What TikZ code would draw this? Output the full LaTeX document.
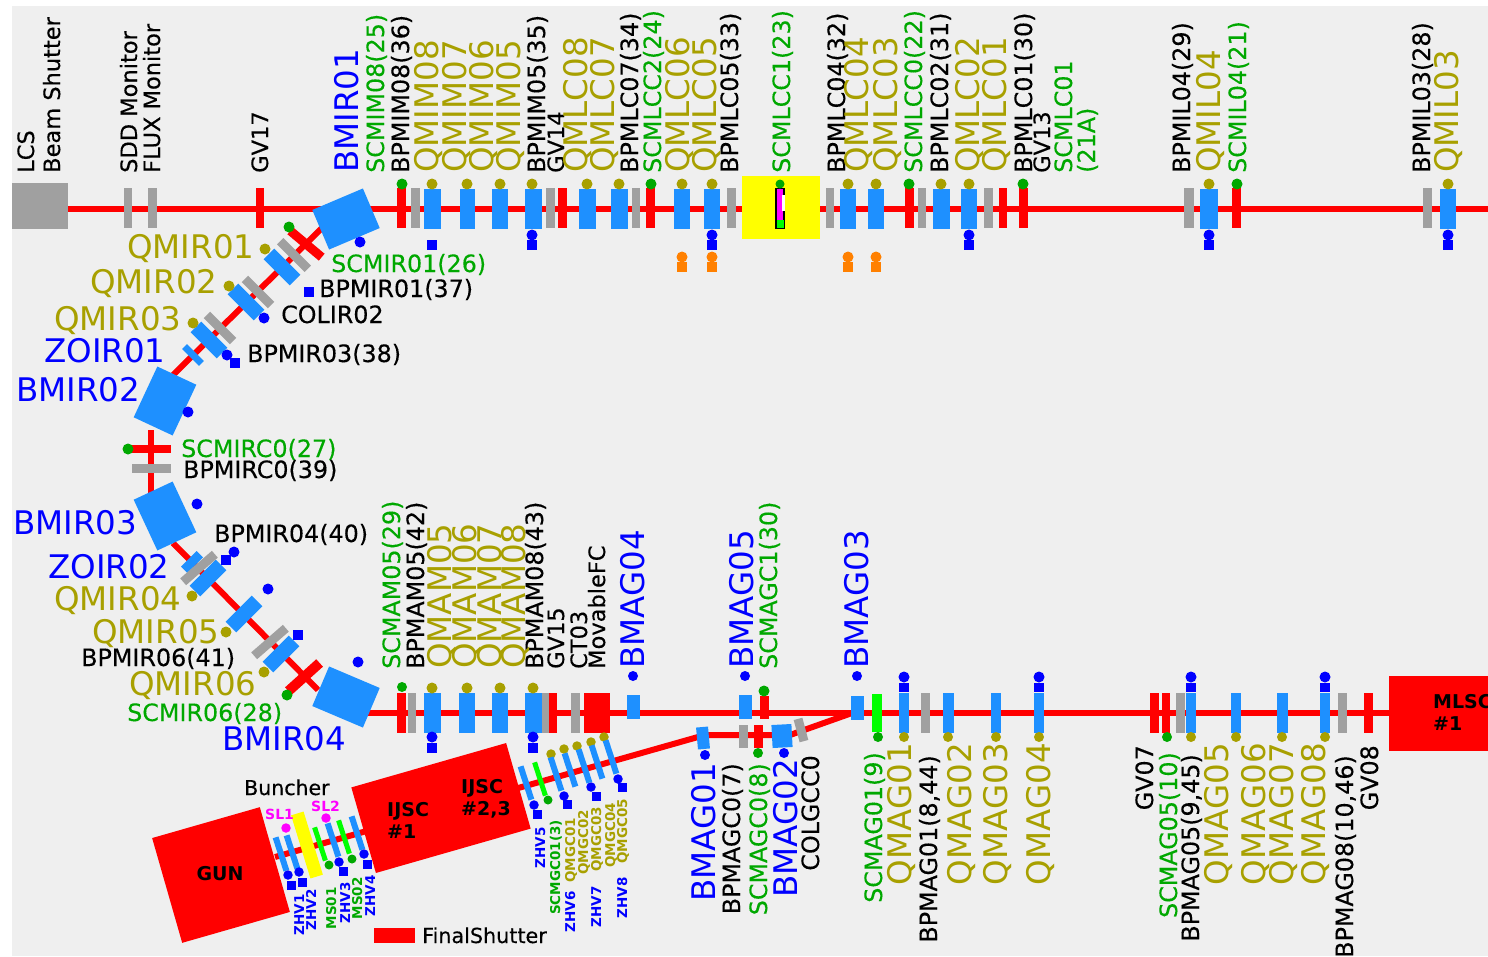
\documentclass[tikz,border=0pt]{standalone}
\usepackage{fontspec}
\setmainfont{DejaVu Sans}
\newfontfamily\lblfont[FakeBold=0.3]{DejaVu Sans}
\definecolor{bgc}{HTML}{EFEFEF}
\definecolor{dblue}{HTML}{1E90FF}
\definecolor{olv}{HTML}{A8A000}
\definecolor{dgreen}{HTML}{00A800}
\definecolor{gry}{HTML}{A0A0A0}
\definecolor{org}{HTML}{FF8000}
\definecolor{mgn}{HTML}{FF00FF}
\definecolor{yel}{HTML}{FFFF00}
\definecolor{lim}{HTML}{00FF00}
\tikzset{
    beam/.style={draw=red,line width=6pt},
    elem/.style={inner sep=0pt,outer sep=0pt,minimum height=40pt},
    qbar/.style={elem,fill=dblue},
    scbar/.style={elem,fill=red},
    bpbar/.style={elem,fill=gry},
    sqmark/.style={inner sep=0pt,minimum size=10.5pt,fill=blue},
    spot/.style={circle,inner sep=0pt,minimum size=11pt},
    oldot/.style={spot,fill=olv},
    grdot/.style={spot,fill=dgreen},
    bldot/.style={spot,fill=blue},
    ordot/.style={spot,fill=org},
    mgdot/.style={spot,fill=mgn,minimum size=9.5pt},
    bigt/.style={font=\fontsize{32.5}{32.5}\selectfont,inner sep=0pt,anchor=base west},
    smallt/.style={font=\lblfont\fontsize{23.8}{24}\selectfont,inner sep=0pt,anchor=base west},
    plaint/.style={font=\lblfont\fontsize{22.5}{23}\selectfont,inner sep=0pt,anchor=base west},
    tinyt/.style={font=\fontsize{13.5}{14}\selectfont\bfseries,inner sep=0pt,anchor=base east,rotate=90},
    upl/.style={rotate=90,anchor=base west},
    dnl/.style={rotate=90,anchor=base east},
    slant/.style={inner sep=0pt,outer sep=0pt,rotate=-72,minimum height=6pt,minimum width=35pt}
}
\begin{document}
\begin{tikzpicture}[x=1pt,y=-1pt]
    \useasboundingbox (0,0) rectangle (1488,956);
    \fill[bgc] (12,6) rectangle (1488,956);
    \coordinate (ls) at (68,209);
    \coordinate (le) at (1488,209);
    \coordinate (ma) at (325,225);
    \coordinate (mb) at (173,375);
    \coordinate (mc) at (151,430);
    \coordinate (md) at (151,495);
    \coordinate (me) at (173,543);
    \coordinate (mf) at (318,690);
    \coordinate (bs) at (368,713);
    \coordinate (be) at (1390,713);
    \coordinate (ga) at (852,713);
    \coordinate (gb) at (790,735);
    \coordinate (gc) at (705,735);
    \coordinate (gd) at (275,857);
    \draw[beam] (ls) -- (le);
    \draw[beam] (ma) -- (mb);
    \draw[beam] (mc) -- (md);
    \draw[beam] (me) -- (mf);
    \draw[beam] (bs) -- (be);
    \draw[beam] (ga) -- (gb) -- (gc) -- (gd);
    \node[fill=gry,inner sep=0pt,minimum width=56pt,minimum height=46pt] (LCS) at (40,206) {};
    \foreach \x/\w in {128/8,152/9,415/9,550/9,636/8,731/9,830/8,922/8,988/9,1189/10,1427/9}
        \node[bpbar,minimum width=\w pt] (bt\x) at (\x,208) {};
    \foreach \x/\w in {260/8,401/9,562/9,650/9,909/9,1003/8,1023/9,1236/9}
        \node[scbar,minimum width=\w pt] (st\x) at (\x,208) {};
    \foreach \x/\w in {432/17,467/15,500/16,533/17,587/17,619/17,682/16,712/16,848/16,876/16,941/17,969/16,1209/18,1448/16}
        \node[qbar,minimum width=\w pt] (qt\x) at (\x,208.5) {};
    \foreach \x in {432,467,500,532,587,619,682,712,848,876,941,969,1209,1448}
        \node[oldot] (ot\x) at (\x,184) {};
    \foreach \x in {402,651,909,1023,1237}
        \node[grdot] (gt\x) at (\x,184) {};
    \foreach \x in {532,712,969,1209,1448}
        \node[bldot] (ct\x) at (\x,235) {};
    \foreach \x in {432,532,712,969,1209,1448}
        \node[sqmark] (mt\x) at (\x,245) {};
    \foreach \x in {682,712,848,876}{
        \node[ordot] (ro\x) at (\x,257) {};
        \node[fill=org,inner sep=0pt,minimum size=10.5pt] (rs\x) at (\x,267) {};
    }
    \node[fill=yel,inner sep=0pt,minimum width=78pt,minimum height=63pt] (SCLCC) at (781,207.5) {};
    \node[fill=mgn,draw=black,line width=1.2pt,inner sep=0pt,minimum width=8pt,minimum height=40pt] (cav) at (780,208.5) {};
    \node[fill=lim,inner sep=0pt,minimum width=7pt,minimum height=8pt] (cavb) at (780,224) {};
    \node[fill=white,inner sep=0pt,minimum width=3pt,minimum height=16pt] (cavw) at (783,203) {};
    \node[grdot,minimum size=9pt] (cavd) at (780,184) {};

    \node[qbar,minimum width=55pt,minimum height=43pt,rotate=23] (BMIR01) at (346,219) {};
    \node[bldot] (dBMIR01) at (360,242) {};
    \node[scbar,minimum width=41pt,minimum height=9pt,rotate=-40] (SCMIR01) at (306,244) {};
    \node[grdot] (gSCMIR01) at (289,227) {};
    \node[bpbar,minimum width=39pt,minimum height=9pt,rotate=-45] (BPMIR01) at (294,255) {};
    \node[qbar,minimum width=37pt,minimum height=15pt,rotate=-45] (QMIR01) at (282,267) {};
    \node[oldot] (oQMIR01) at (265,249) {};
    \node[sqmark] (mBPMIR01) at (309,292) {};
    \node[bpbar,minimum width=37pt,minimum height=9pt,rotate=-45] (COLIR02) at (258,292) {};
    \node[qbar,minimum width=37pt,minimum height=15pt,rotate=-45] (QMIR02) at (246,302) {};
    \node[oldot] (oQMIR02) at (229,286) {};
    \node[bldot] (dQMIR02) at (264,318) {};
    \node[bpbar,minimum width=37pt,minimum height=9pt,rotate=-45] (BPMIR03) at (220,328) {};
    \node[qbar,minimum width=37pt,minimum height=15pt,rotate=-45] (QMIR03) at (209,340) {};
    \node[oldot] (oQMIR03) at (193,323) {};
    \node[bldot] (dQMIR03) at (227,355) {};
    \node[sqmark] (mBPMIR03) at (235,363) {};
    \node[qbar,minimum width=24pt,minimum height=7pt,rotate=-45] (ZOIR01) at (193,355) {};
    \node[qbar,minimum width=56pt,minimum height=43pt,rotate=65] (BMIR02) at (165,401) {};
    \node[bldot] (dBMIR02) at (188,412) {};
    \node[scbar,minimum width=39pt,minimum height=8pt] (SCMIRC0) at (151.5,449) {};
    \node[grdot] (gSCMIRC0) at (128,449) {};
    \node[bpbar,minimum width=39pt,minimum height=9pt] (BPMIRC0) at (151.5,468.5) {};
    \node[qbar,minimum width=56pt,minimum height=43pt,rotate=-65] (BMIR03) at (165,516) {};
    \node[bldot] (dBMIR03) at (197,504) {};
    \node[qbar,minimum width=37pt,minimum height=15pt,rotate=45] (QMIR04) at (208,578) {};
    \node[qbar,minimum width=22pt,minimum height=9pt,rotate=45] (ZOIR02) at (192,562) {};
    \node[bpbar,minimum width=42pt,minimum height=9pt,rotate=41] (BPMIR04) at (199,568) {};
    \node[bldot] (dBPMIR04) at (234,552) {};
    \node[sqmark] (mBPMIR04) at (226,560) {};
    \node[oldot] (oQMIR04) at (192,596) {};
    \node[qbar,minimum width=37pt,minimum height=15pt,rotate=45] (QMIR05) at (244,614) {};
    \node[oldot] (oQMIR05) at (226,632) {};
    \node[bldot] (dQMIR05) at (268,589) {};
    \node[bpbar,minimum width=42pt,minimum height=9pt,rotate=41] (BPMIR06) at (270,642) {};
    \node[qbar,minimum width=37pt,minimum height=15pt,rotate=45] (QMIR06) at (281,654) {};
    \node[sqmark] (mBPMIR06) at (298,635) {};
    \node[oldot] (oQMIR06) at (264,672) {};
    \node[scbar,minimum width=42pt,minimum height=10pt,rotate=42] (SCMIR06) at (304,677) {};
    \node[grdot] (gSCMIR06) at (287,695) {};
    \node[qbar,minimum width=55pt,minimum height=43pt,rotate=-23] (BMIR04) at (346,697) {};
    \node[bldot] (dBMIR04) at (358,662) {};

    \foreach \x/\w in {412/8,545/8,575/9,925/9,1180/9,1342/9}
        \node[bpbar,minimum width=\w pt] (bb\x) at (\x,713) {};
    \foreach \x/\w in {401/9,553/8,1154/9,1166/8,1368/9}
        \node[scbar,minimum width=\w pt] (sb\x) at (\x,713) {};
    \node[scbar,minimum width=26pt,minimum height=40pt] (FC) at (597,713) {};
    \foreach \x/\w in {432/17,467/16,500/16,533/17,904/10,948/11,996/10,1039/10,1191/10,1236/10,1282/11,1325/10}
        \node[qbar,minimum width=\w pt] (qb\x) at (\x,713) {};
    \foreach \x in {432,467,500,533}
        \node[oldot] (ob\x) at (\x,688) {};
    \foreach \x in {904,948,996,1039,1191,1236,1282,1325}
        \node[oldot,minimum size=10pt] (oc\x) at (\x,737) {};
    \foreach \x in {432,533}{
        \node[bldot] (db\x) at (\x,737) {};
        \node[sqmark] (mb\x) at (\x,748) {};
    }
    \foreach \x in {904,1039,1191,1325}{
        \node[bldot] (dc\x) at (\x,677) {};
        \node[sqmark,minimum width=10pt,minimum height=9pt] (mc\x) at (\x,687.5) {};
    }
    \node[grdot,minimum size=10pt] (gb402) at (402,687) {};
    \node[grdot,minimum size=10pt] (gb1167) at (1167,737) {};
    \foreach \x/\y in {633/707,745/707,857/708}{
        \node[qbar,minimum width=13pt,minimum height=24pt] (ag\x) at (\x,\y) {};
        \node[bldot,minimum size=10pt] (dg\x) at (\x,676) {};
    }
    \node[scbar,minimum width=9pt,minimum height=23pt] (SCMAGC1) at (764,707) {};
    \node[grdot] (gSCMAGC1) at (764,691) {};
    \node[fill=lim,inner sep=0pt,minimum width=10pt,minimum height=38pt] (SCMAG01) at (877,713) {};
    \node[grdot,minimum size=10pt] (gSCMAG01) at (878,737) {};
    \node[qbar,minimum width=12pt,minimum height=22pt,rotate=5] (BMAG01) at (703,738) {};
    \node[bldot,minimum size=10pt] (dBMAG01) at (705,755) {};
    \node[bpbar,minimum width=9pt,minimum height=23pt] (BPMAGC0) at (743,736) {};
    \node[scbar,minimum width=9pt,minimum height=23pt] (SCMAGC0) at (758,736) {};
    \node[grdot,minimum size=10pt] (gSCMAGC0) at (758,753) {};
    \node[qbar,minimum width=20pt,minimum height=23pt,rotate=3] (BMAG02) at (782,736) {};
    \node[bldot,minimum size=10pt] (dBMAG02) at (784,753) {};
    \node[bpbar,minimum width=9pt,minimum height=23pt,rotate=15] (COLGCC0) at (801,730) {};
    \node[scbar,minimum width=110pt,minimum height=75pt,anchor=north west] (MLSC) at (1389,676) {};

    \node[scbar,minimum width=112pt,minimum height=109pt,rotate=16] (GUN) at (221,875) {};
    \node[scbar,minimum width=161pt,minimum height=89pt,rotate=16] (IJSC) at (441,808) {};
    \node[slant,fill=dblue] (ZHV1) at (281,854) {};
    \node[slant,fill=dblue] (ZHV2) at (292,852) {};
    \node[fill=yel,inner sep=0pt,rotate=-73,minimum width=66pt,minimum height=13pt] (BUN) at (307,845) {};
    \node[slant,fill=lim,minimum height=5pt] (MS01) at (320,844) {};
    \node[slant,fill=dblue] (ZHV3) at (333,840) {};
    \node[slant,fill=lim,minimum height=5pt] (MS02) at (344,837) {};
    \node[slant,fill=dblue] (ZHV4) at (357,833) {};
    \foreach \x/\y in {288/875,299/872,339/862,364/854,534/805,564/796,591/787,618/779}
        \node[bldot,minimum size=9.5pt] (de\x) at (\x,\y) {};
    \foreach \x/\y in {291/885,302/882,343/871,367/864,537/814,567/804,596/796,622/787}
        \node[sqmark,minimum size=9pt] (me\x) at (\x,\y) {};
    \node[mgdot] (mSL1) at (286,828) {};
    \node[mgdot] (mSL2) at (326,818) {};
    \foreach \x/\y in {329/865,352/859,548/800}
        \node[grdot,minimum size=9pt] (ge\x) at (\x,\y) {};
    \foreach \x/\y in {551/754,564/749,577/746,591/742,604/737}
        \node[oldot,minimum size=9.5pt] (oe\x) at (\x,\y) {};
    \node[slant,fill=dblue] (ZHV5) at (526,783) {};
    \node[slant,fill=lim,minimum height=5pt] (SCMGC01) at (540,779) {};
    \foreach \x/\y in {556/774,570/770,584/766,597/762,611/757}
        \node[slant,fill=dblue] (qg\x) at (\x,\y) {};

    \foreach \x/\t in {34/LCS,60/Beam Shutter,137/SDD Monitor,160/FLUX Monitor,268/GV17,564/GV14,1050/GV13}
        \node[plaint,upl] (pt\x) at (\x,173) {\t};
    \foreach \x/\t in {409/BPMIM08(36),545/BPMIM05(35),638/BPMLC07(34),738/BPMLC05(33),845/BPMLC04(32),948/BPMLC02(31),1032/BPMLC01(30),1190/BPMIL04(29),1430/BPMIL03(28)}
        \node[smallt,upl] (ut\x) at (\x,173) {\t};
    \foreach \x/\t in {384/SCMIM08(25),661/SCMLCC2(24),790/SCMLCC1(23),922/SCMLCC0(22),1072/SCMLC01,1095/(21A),1246/SCMIL04(21)}
        \node[smallt,upl,text=dgreen] (vt\x) at (\x,173) {\t};
    \foreach \x/\t in {438/QMIM08,466/QMIM07,493/QMIM06,520/QMIM05,587/QMLC08,614/QMLC07,689/QMLC06,716/QMLC05,868/QMLC04,897/QMLC03,979/QMLC02,1006/QMLC01,1220/QMIL04,1458/QMIL03}
        \node[bigt,upl,text=olv] (wt\x) at (\x,173) {\t};
    \node[bigt,upl,text=blue] (tBMIR01) at (358,173) {BMIR01};

    \foreach \x/\t in {564/GV15,587/CT03,605/MovableFC}
        \node[plaint,upl] (pb\x) at (\x,669) {\t};
    \foreach \x/\t in {424/BPMAM05(42),543/BPMAM08(43)}
        \node[smallt,upl] (ub\x) at (\x,669) {\t};
    \foreach \x/\t in {400/SCMAM05(29),777/SCMAGC1(30)}
        \node[smallt,upl,text=dgreen] (vb\x) at (\x,669) {\t};
    \foreach \x/\t in {451/QMAM05,476/QMAM06,501/QMAM07,525/QMAM08}
        \node[bigt,upl,text=olv] (wb\x) at (\x,669) {\t};
    \foreach \x/\t in {644/BMAG04,753/BMAG05,868/BMAG03}
        \node[bigt,upl,text=blue] (ab\x) at (\x,669) {\t};

    \foreach \x/\y/\t in {740/763/BPMAGC0(7),819/755/COLGCC0,937/755/{BPMAG01(8,44)},1153/745/GV07,1199/754/{BPMAG05(9,45)},1353/755/{BPMAG08(10,46)},1378/745/GV08}
        \node[smallt,dnl] (ud\x) at (\x,\y) {\t};
    \foreach \x/\y/\t in {767/763/SCMAGC0(8),882/752/SCMAG01(9),1177/752/SCMAG05(10)}
        \node[smallt,dnl,text=dgreen] (vd\x) at (\x,\y) {\t};
    \foreach \x/\t in {911/QMAG01,971/QMAG02,1007/QMAG03,1050/QMAG04,1228/QMAG05,1265/QMAG06,1293/QMAG07,1325/QMAG08}
        \node[bigt,dnl,text=olv] (wd\x) at (\x,743) {\t};
    \foreach \x/\y/\t in {715/763/BMAG01,797/759/BMAG02}
        \node[bigt,dnl,text=blue] (ad\x) at (\x,\y) {\t};

    \foreach \x/\y/\t in {127/258/QMIR01,90/293/QMIR02,54/330/QMIR03,54/610/QMIR04,92/643/QMIR05,129/695/QMIR06}
        \node[bigt,text=olv] (hq\x) at (\x,\y) {\t};
    \foreach \x/\y/\t in {44/362/ZOIR01,16/401/BMIR02,13/534/BMIR03,48/578/ZOIR02,222/750/BMIR04}
        \node[bigt,text=blue] (hb\x) at (\x,\y) {\t};
    \foreach \x/\y/\t in {331/272/SCMIR01(26),181/457/SCMIRC0(27),127/721/SCMIR06(28)}
        \node[smallt,text=dgreen] (hg\x) at (\x,\y) {\t};
    \foreach \x/\y/\t in {319/297/BPMIR01(37),281/323/COLIR02,247/362/BPMIR03(38),183/478/BPMIRC0(39),214/542/BPMIR04(40),81/666/BPMIR06(41)}
        \node[smallt] (hk\x) at (\x,\y) {\t};

    \foreach \x/\y/\t in {304/894/ZHV1,316/889/ZHV2,350/882/ZHV3,375/875/ZHV4,545/827/ZHV5,575/891/ZHV6,601/886/ZHV7,627/877/ZHV8}
        \node[tinyt,text=blue] (zv\x) at (\x,\y) {\t};
    \foreach \x/\y/\t in {336/887/MS01,362/877/MS02,560/820/SCMGC01(3)}
        \node[tinyt,text=dgreen] (zg\x) at (\x,\y) {\t};
    \foreach \x/\y/\t in {575/818/QMGC01,588/810/QMGC02,601/807/QMGC03,615/803/QMGC04,627/799/QMGC05}
        \node[tinyt,text=olv] (zq\x) at (\x,\y) {\t};

    \node[font=\fontsize{19}{19}\selectfont\bfseries,inner sep=0pt,anchor=center] (tGUN) at (220,874) {GUN};
    \node[font=\fontsize{19}{22}\selectfont\bfseries,inner sep=0pt,anchor=north west,align=left] (tIJ1) at (387,802) {IJSC\\\#1};
    \node[font=\fontsize{19}{22}\selectfont\bfseries,inner sep=0pt,anchor=north west,align=left] (tIJ2) at (461,779) {IJSC\\\#2,3};
    \node[font=\fontsize{19}{22}\selectfont\bfseries,inner sep=0pt,anchor=north west,align=left] (tML) at (1433,694) {MLSC\\\#1};
    \node[font=\lblfont\fontsize{20.5}{21}\selectfont,inner sep=0pt,anchor=base west] (tBun) at (244,795) {Buncher};
    \node[font=\fontsize{14}{14}\selectfont\bfseries,text=mgn,inner sep=0pt,anchor=base west] (tSL1) at (265,819) {SL1};
    \node[font=\fontsize{14}{14}\selectfont\bfseries,text=mgn,inner sep=0pt,anchor=base west] (tSL2) at (311,811) {SL2};
    \node[scbar,minimum width=41pt,minimum height=15pt] (FS) at (394.5,935.5) {};
    \node[smallt,font=\lblfont\fontsize{20.7}{21}\selectfont] (tFS) at (422,943) {FinalShutter};
\end{tikzpicture}
\end{document}
